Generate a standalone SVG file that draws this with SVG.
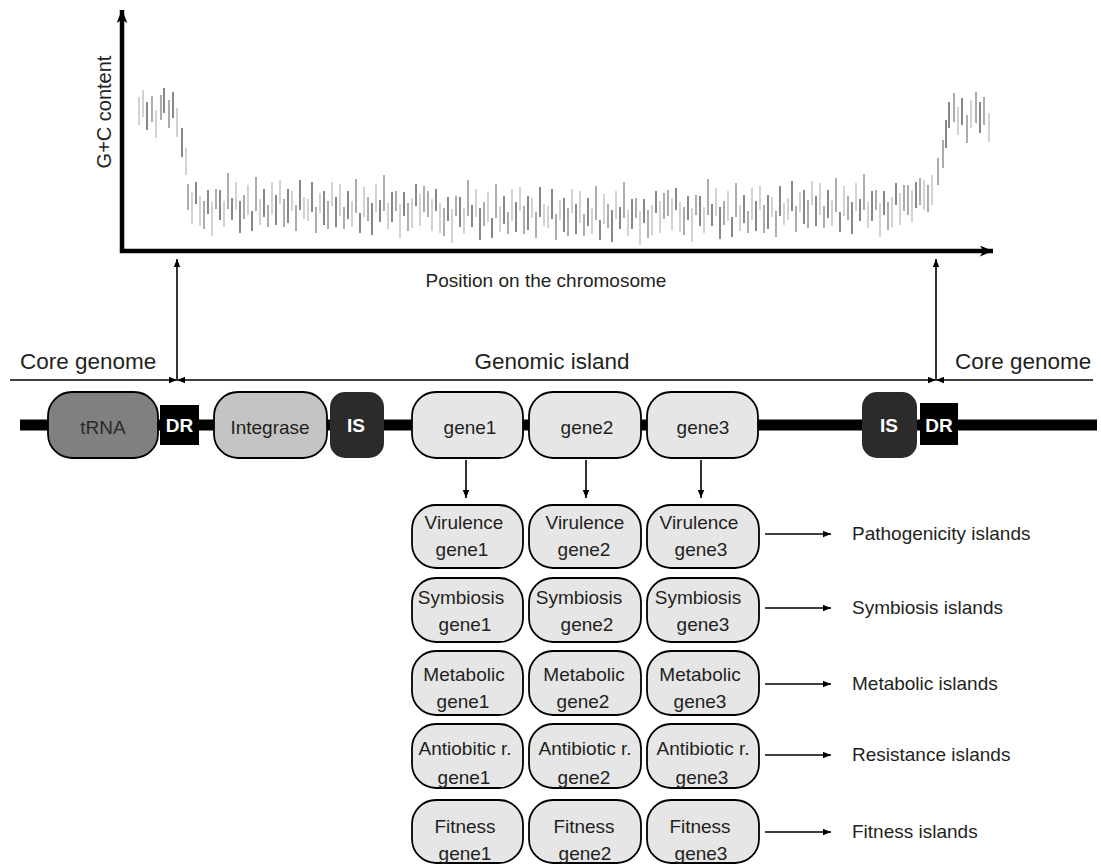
<svg xmlns="http://www.w3.org/2000/svg" xmlns:xlink="http://www.w3.org/1999/xlink" width="1101" height="867" viewBox="0 0 1101 867">
<style>
text{font-family:"Liberation Sans",Arial,sans-serif;fill:#231f20}
.lbl{font-size:19px}
.big{font-size:22.5px}
.cell{font-size:19px;text-anchor:middle}
.wb{font-weight:bold;fill:#fff;font-size:19px;text-anchor:middle}
.bx{stroke:#000;stroke-width:1.8}
.bd{stroke:#6b6b6b;stroke-width:1.6;fill:none}
.bm{stroke:#999;stroke-width:1.6;fill:none}
.bl{stroke:#c8c8c8;stroke-width:1.6;fill:none}
.ln{stroke:#000;stroke-width:1.6;fill:none}
.gene{fill:#e6e6e6}
</style>
<defs>
<marker id="ah" viewBox="0 0 10 8" refX="10" refY="4" markerWidth="8" markerHeight="7" markerUnits="userSpaceOnUse" orient="auto-start-reverse"><path d="M0 0L10 4L0 8z" fill="#000"/></marker>
<marker id="axh" viewBox="0 0 12 10" refX="12" refY="5" markerWidth="13" markerHeight="11" markerUnits="userSpaceOnUse" orient="auto"><path d="M0 0L12 5L0 10L3 5z" fill="#000"/></marker>
<g id="tile">
<path class="bd" d="M8 -23v22M20 -15v24M32 -15v30M44 -7v22M52 -4v32M64 6v20M76 -16v28M88 -10v30M100 -16v34M112 -25v30"/>
<path class="bm" d="M0 -21v26M16 -4v28M28 -16v20M40 -32v36M56 -10v24M68 -28v34M80 0v22M96 -6v28M108 0v26"/>
<path class="bl" d="M4 -13v32M12 -9v30M24 -3v34M36 -4v26M48 -23v28M60 -20v30M72 -6v26M84 -23v32M92 -25v24M104 -14v20M116 -8v22"/>
</g>
</defs>
<rect width="1101" height="867" fill="#fff"/>

<g id="chart">
<g id="bars">
<path class="bl" d="M139 97V125M143 90V117M156 110V138M177 108V137M186 148V175"/>
<path class="bm" d="M152 96V122M161 95V120M169 100V128"/>
<path class="bd" d="M147 102V130M164 88V113M173 92V118M182 128V157"/>
<use xlink:href="#tile" transform="translate(188,205)"/>
<use xlink:href="#tile" transform="translate(424,207) scale(-1,1)"/>
<use xlink:href="#tile" transform="translate(428,212)"/>
<use xlink:href="#tile" transform="translate(664,214) scale(-1,1)"/>
<use xlink:href="#tile" transform="translate(668,211)"/>
<use xlink:href="#tile" transform="translate(904,206) scale(-1,1)"/>
<path class="bm" d="M908 185V215M920 178V205M928 185V212M938 158V185M943 140V168M954 93V122M967 115V143M976 92V123M984 97V125"/>
<path class="bl" d="M912 190V222M924 180V210M932 175V205M958 107V135M971 100V128M989 113V142"/>
<path class="bd" d="M916 182V208M946 120V148M949 102V128M962 98V125M980 102V133"/>
</g>
<line x1="122" y1="253" x2="122" y2="10" stroke="#000" stroke-width="4.5" marker-end="url(#axh)"/>
<line x1="120" y1="251" x2="993" y2="251" stroke="#000" stroke-width="4.5" marker-end="url(#axh)"/>
<text class="lbl" font-size="20" text-anchor="middle" transform="translate(111,112) rotate(-90)" style="font-size:20px">G+C content</text>
<text class="lbl" x="546" y="287" text-anchor="middle">Position on the chromosome</text>
</g>

<g id="labels">
<text class="big" x="20" y="369">Core genome</text>
<text class="big" x="552" y="369" text-anchor="middle">Genomic island</text>
<text class="big" x="955" y="369">Core genome</text>
</g>

<g id="chromosome">
<line x1="20" y1="425" x2="1097" y2="425" stroke="#000" stroke-width="11"/>
</g>

<g id="tRNA"><rect class="bx" x="48" y="392" width="110" height="66" rx="24" fill="#808080"/><text class="lbl" x="103" y="434" text-anchor="middle" style="fill:#2a2a2a">tRNA</text></g>
<g id="DR1"><rect x="160" y="405" width="39" height="40" fill="#000"/><text class="wb" x="179.5" y="432">DR</text></g>
<g id="integrase"><rect class="bx" x="214" y="392" width="113" height="66" rx="24" fill="#c4c4c4"/><text class="lbl" x="270" y="434" text-anchor="middle">Integrase</text></g>
<g id="IS1"><rect x="330" y="392" width="54" height="66" rx="15" fill="#2b2b2b"/><text class="wb" x="356" y="432">IS</text></g>
<g id="gene1"><rect class="bx gene" x="412" y="392" width="111" height="66" rx="24"/><text class="lbl" x="470" y="434" text-anchor="middle">gene1</text></g>
<g id="gene2"><rect class="bx gene" x="529" y="392" width="112" height="66" rx="24"/><text class="lbl" x="587" y="434" text-anchor="middle">gene2</text></g>
<g id="gene3"><rect class="bx gene" x="647" y="392" width="111" height="66" rx="24"/><text class="lbl" x="703" y="434" text-anchor="middle">gene3</text></g>
<g id="IS2"><rect x="862" y="392" width="55" height="66" rx="15" fill="#2b2b2b"/><text class="wb" x="889" y="432">IS</text></g>
<g id="DR2"><rect x="920" y="403" width="38" height="42" fill="#000"/><text class="wb" x="939" y="432">DR</text></g>

<g id="grid">
<g id="vir1"><rect class="bx gene" x="412" y="505" width="111" height="63" rx="24"/><text class="cell" x="464" y="529">Virulence</text><text class="cell" x="462" y="556">gene1</text></g>
<g id="vir2"><rect class="bx gene" x="529" y="505" width="112" height="63" rx="24"/><text class="cell" x="585" y="529">Virulence</text><text class="cell" x="584" y="556">gene2</text></g>
<g id="vir3"><rect class="bx gene" x="647" y="505" width="112" height="63" rx="24"/><text class="cell" x="699" y="529">Virulence</text><text class="cell" x="701" y="556">gene3</text></g>

<g id="sym1"><rect class="bx gene" x="412" y="578" width="111" height="64" rx="24"/><text class="cell" x="461" y="604">Symbiosis</text><text class="cell" x="465" y="631">gene1</text></g>
<g id="sym2"><rect class="bx gene" x="529" y="578" width="112" height="64" rx="24"/><text class="cell" x="579" y="604">Symbiosis</text><text class="cell" x="587" y="631">gene2</text></g>
<g id="sym3"><rect class="bx gene" x="647" y="578" width="112" height="64" rx="24"/><text class="cell" x="698" y="604">Symbiosis</text><text class="cell" x="703" y="631">gene3</text></g>

<g id="met1"><rect class="bx gene" x="412" y="651" width="111" height="64" rx="24"/><text class="cell" x="464" y="681">Metabolic</text><text class="cell" x="463" y="708">gene1</text></g>
<g id="met2"><rect class="bx gene" x="529" y="651" width="112" height="64" rx="24"/><text class="cell" x="584" y="681">Metabolic</text><text class="cell" x="583" y="708">gene2</text></g>
<g id="met3"><rect class="bx gene" x="647" y="651" width="112" height="64" rx="24"/><text class="cell" x="700" y="681">Metabolic</text><text class="cell" x="700" y="708">gene3</text></g>

<g id="ab1"><rect class="bx gene" x="412" y="724" width="111" height="64" rx="24"/><text class="cell" x="465" y="755">Antiobitic r.</text><text class="cell" x="464" y="784">gene1</text></g>
<g id="ab2"><rect class="bx gene" x="529" y="724" width="112" height="64" rx="24"/><text class="cell" x="585" y="755">Antibiotic r.</text><text class="cell" x="584" y="784">gene2</text></g>
<g id="ab3"><rect class="bx gene" x="647" y="724" width="112" height="64" rx="24"/><text class="cell" x="703" y="755">Antibiotic r.</text><text class="cell" x="702" y="784">gene3</text></g>

<g id="fit1"><rect class="bx gene" x="412" y="800" width="111" height="63" rx="24"/><text class="cell" x="465" y="833">Fitness</text><text class="cell" x="465" y="860">gene1</text></g>
<g id="fit2"><rect class="bx gene" x="529" y="800" width="112" height="63" rx="24"/><text class="cell" x="584" y="833">Fitness</text><text class="cell" x="585" y="860">gene2</text></g>
<g id="fit3"><rect class="bx gene" x="647" y="800" width="112" height="63" rx="24"/><text class="cell" x="700" y="833">Fitness</text><text class="cell" x="701" y="860">gene3</text></g>
</g>

<g id="island-labels">
<text class="lbl" x="852" y="540">Pathogenicity islands</text>
<text class="lbl" x="852" y="614">Symbiosis islands</text>
<text class="lbl" x="852" y="690">Metabolic islands</text>
<text class="lbl" x="852" y="761">Resistance islands</text>
<text class="lbl" x="852" y="838">Fitness islands</text>
</g>

<g id="connectors">
<line class="ln" x1="177" y1="379" x2="177" y2="259" marker-end="url(#ah)"/>
<line class="ln" x1="936" y1="379" x2="936" y2="259" marker-end="url(#ah)"/>
<line class="ln" x1="10" y1="380" x2="177" y2="380" marker-end="url(#ah)"/>
<line class="ln" x1="177" y1="380" x2="936" y2="380" marker-start="url(#ah)" marker-end="url(#ah)"/>
<line class="ln" x1="936" y1="380" x2="1093" y2="380" marker-start="url(#ah)"/>
<line class="ln" x1="466" y1="460" x2="466" y2="498" marker-end="url(#ah)"/>
<line class="ln" x1="586" y1="460" x2="586" y2="498" marker-end="url(#ah)"/>
<line class="ln" x1="701" y1="460" x2="701" y2="498" marker-end="url(#ah)"/>
<line class="ln" x1="765" y1="534" x2="831" y2="534" marker-end="url(#ah)"/>
<line class="ln" x1="765" y1="608" x2="831" y2="608" marker-end="url(#ah)"/>
<line class="ln" x1="765" y1="684" x2="831" y2="684" marker-end="url(#ah)"/>
<line class="ln" x1="765" y1="755" x2="831" y2="755" marker-end="url(#ah)"/>
<line class="ln" x1="765" y1="832" x2="831" y2="832" marker-end="url(#ah)"/>
</g>
</svg>
